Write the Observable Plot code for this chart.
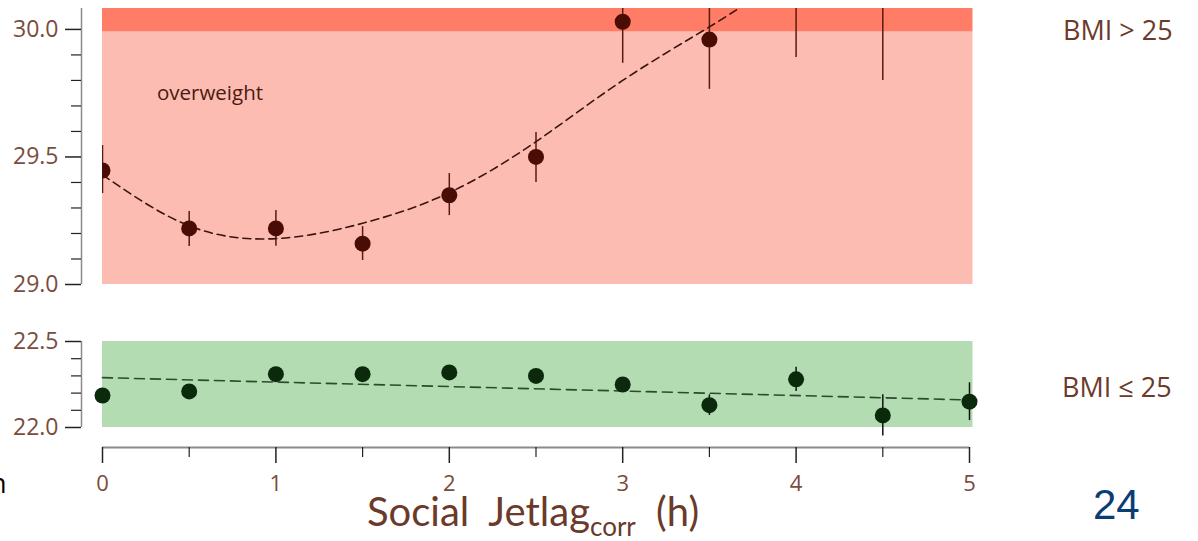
<!DOCTYPE html>
<html><head><meta charset="utf-8">
<script src="https://cdn.jsdelivr.net/npm/d3@7"></script>
<script src="https://cdn.jsdelivr.net/npm/@observablehq/plot@0.6"></script>
<style>
body{margin:0;background:#fff;}
#page{position:relative;width:1198px;height:541px;overflow:hidden;font-family:"Open Sans",sans-serif;}
#top,#bot{position:absolute;left:0;}
#top{top:0px} #bot{top:300px}
.lab{position:absolute;white-space:nowrap;line-height:1;color:#6b3a2a;}
</style></head><body>
<div id="page">
  <div id="top"></div>
  <div id="bot"></div>
  <div class="lab" id="l1" style="left:1063px;top:16px;font-size:27px;">BMI &gt; 25</div>
  <div class="lab" id="l2" style="left:1062px;top:373px;font-size:27px;">BMI ≤ 25</div>
  <div class="lab" id="ow" style="left:157px;top:82px;font-size:20.5px;color:#4a1a10;">overweight</div>
  <div class="lab" id="ttl" style="left:367px;top:499px;line-height:24px;font-size:40px;font-family:Lato,sans-serif;word-spacing:10px;">Social Jetlag<span style="font-size:26px;position:relative;top:10px;word-spacing:0">corr</span> (h)</div>
  <div class="lab" id="pg" style="left:1093px;top:484px;font-size:42px;font-family:'Liberation Sans',Arial,sans-serif;color:#0b3d73;">24</div>
  <div class="lab" id="nn" style="left:-10px;top:469px;font-size:27px;color:#000;">n</div>
</div>
<script>
// ---- data ----
const jetlag = [0, 0.5, 1, 1.5, 2, 2.5, 3, 3.5, 4, 4.5];
const overMean = [29.447, 29.22, 29.22, 29.16, 29.35, 29.50, 30.03, 29.96, 30.15, 30.15];
const overLow  = [29.357, 29.149, 29.15, 29.094, 29.27, 29.40, 29.867, 29.765, 29.89, 29.80];
const overHigh = [29.545, 29.286, 29.29, 29.227, 29.435, 29.596, 30.19, 30.16, 30.41, 30.50];

const jetlagLow = [0, 0.5, 1, 1.5, 2, 2.5, 3, 3.5, 4, 4.5, 5];
const normMean = [22.186, 22.21, 22.31, 22.31, 22.32, 22.30, 22.25, 22.13, 22.28, 22.07, 22.15];
const normLow  = [22.156, 22.18, 22.28, 22.28, 22.29, 22.27, 22.22, 22.07, 22.21, 21.95, 22.04];
const normHigh = [22.216, 22.24, 22.34, 22.34, 22.35, 22.33, 22.28, 22.19, 22.35, 22.19, 22.26];

const overFitX = [0, 0.5, 1, 1.5, 2, 2.5, 3, 3.5, 3.75];
const overFitY = [29.43, 29.23, 29.18, 29.24, 29.36, 29.56, 29.80, 30.01, 30.12];
const normFitX = [0, 5];
const normFitY = [22.29, 22.16];

const overBandLow  = [29.0, 29.99];
const overBandHigh = [29.99, 30.082];
const overBandFill = ["#fdbcb2", "#ff7d66"];
const normBandLow = [22.0];
const normBandHigh = [22.5];
const bandXEnd = 5.02;

const overMajor = [29.0, 29.5, 30.0];
const overMinor = [29.1, 29.2, 29.3, 29.4, 29.6, 29.7, 29.8, 29.9];
const normMajor = [22.0, 22.5];
const normMinor = [22.1, 22.2, 22.3, 22.4];
const xMajor = [0, 1, 2, 3, 4, 5];
const xMinor = [0.5, 1.5, 2.5, 3.5, 4.5];

// ---- styling ----
const tickColor = "#222";
const textColor = "#7a4c3c";
const axisLine = "#8a8a8a";
const W = 1198;

function yAxes(major, minor) {
  return [
    Plot.axisY(major, {anchor: "left", tickSize: 16, dx: -21, stroke: tickColor, strokeWidth: 1.5, fill: "none", label: null}),
    Plot.axisY(minor, {anchor: "left", tickSize: 10, dx: -21, stroke: tickColor, strokeWidth: 1.2, fill: "none", label: null}),
    Plot.axisY(major, {anchor: "left", tickSize: 16, tickPadding: 7, dx: -21, stroke: "none", fill: textColor, fontSize: 23, tickFormat: d3.format(".1f"), label: null})
  ];
}

const topPlot = Plot.plot({
  width: W, height: 300,
  marginLeft: 102, marginRight: 229, marginTop: 8, marginBottom: 16,
  x: {domain: [0, 5], axis: null},
  y: {domain: [29.0, 30.082]},
  style: {background: "transparent", overflow: "visible", fontFamily: "Open Sans", fontSize: "23px"},
  marks: [
    Plot.rect([0, 1], {x1: () => 0, x2: () => bandXEnd, y1: i => overBandLow[i], y2: i => overBandHigh[i], fill: i => overBandFill[i]}),
    Plot.ruleX([0], {x: 0, y1: 29.0, y2: 30.082, dx: -21, stroke: axisLine, strokeWidth: 1.5}),
    ...yAxes(overMajor, overMinor),
    Plot.ruleX(d3.range(jetlag.length), {x: i => jetlag[i], y1: i => overLow[i], y2: i => overHigh[i], stroke: "#5a1a10", strokeWidth: 1.5, clip: true}),
    Plot.line(d3.range(overFitX.length), {x: i => overFitX[i], y: i => overFitY[i], curve: "natural", stroke: "#3a1410", strokeWidth: 1.6, strokeDasharray: "8,5", clip: true}),
    Plot.dot(d3.range(jetlag.length), {x: i => jetlag[i], y: i => overMean[i], r: 8, fill: "#4a0d06", stroke: "none", clip: true})
  ]
});
document.getElementById("top").appendChild(topPlot);

const botPlot = Plot.plot({
  width: W, height: 241,
  marginLeft: 102, marginRight: 229, marginTop: 41, marginBottom: 114,
  x: {domain: [0, 5]},
  y: {domain: [22.0, 22.5]},
  style: {background: "transparent", overflow: "visible", fontFamily: "Open Sans", fontSize: "23px"},
  marks: [
    Plot.rect([0], {x1: () => 0, x2: () => bandXEnd, y1: i => normBandLow[i], y2: i => normBandHigh[i], fill: "#b3dcb3"}),
    Plot.ruleX([0], {x: 0, y1: 22.0, y2: 22.5, dx: -21, stroke: axisLine, strokeWidth: 1.5}),
    ...yAxes(normMajor, normMinor),
    Plot.ruleY([0], {y: 22.0, x1: 0, x2: 5, dy: 20, stroke: axisLine, strokeWidth: 2}),
    Plot.axisX(xMajor, {anchor: "bottom", tickSize: 16, dy: 20, stroke: tickColor, strokeWidth: 1.5, fill: "none", label: null}),
    Plot.axisX(xMinor, {anchor: "bottom", tickSize: 10, dy: 20, stroke: tickColor, strokeWidth: 1.2, fill: "none", label: null}),
    Plot.axisX(xMajor, {anchor: "bottom", tickSize: 16, tickPadding: 12, dy: 20, stroke: "none", fill: textColor, fontSize: 22, tickFormat: d3.format("d"), label: null}),
    Plot.ruleX(d3.range(jetlagLow.length), {x: i => jetlagLow[i], y1: i => normLow[i], y2: i => normHigh[i], stroke: "#111", strokeWidth: 1.5}),
    Plot.line(d3.range(normFitX.length), {x: i => normFitX[i], y: i => normFitY[i], stroke: "#2e4a2e", strokeWidth: 1.6, strokeDasharray: "10,6"}),
    Plot.dot(d3.range(jetlagLow.length), {x: i => jetlagLow[i], y: i => normMean[i], r: 8, fill: "#0b2a0b", stroke: "none"})
  ]
});
document.getElementById("bot").appendChild(botPlot);
</script>
</body></html>
